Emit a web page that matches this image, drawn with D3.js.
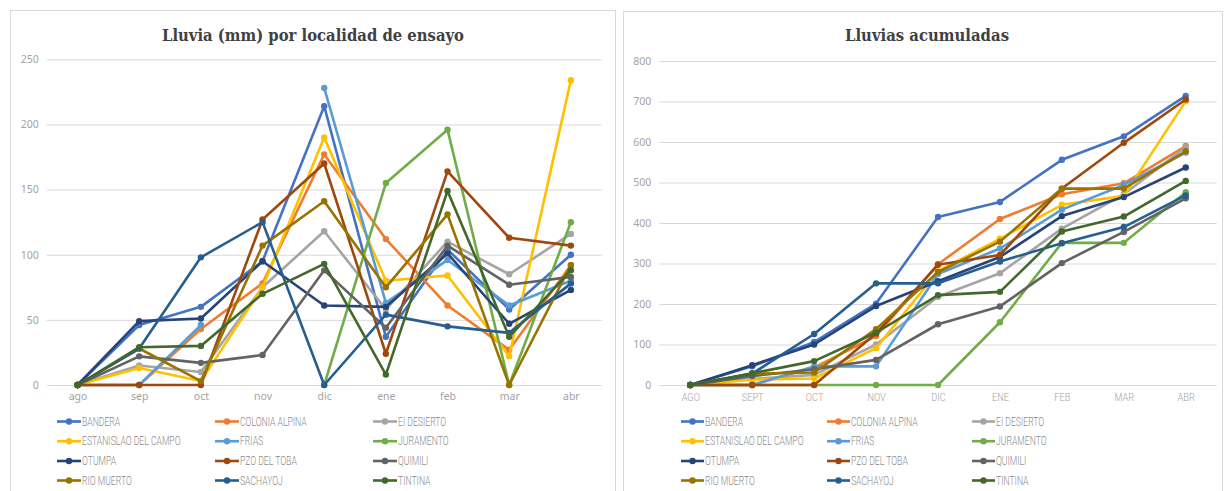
<!DOCTYPE html>
<html>
<head>
<meta charset="utf-8">
<script src="https://cdn.jsdelivr.net/npm/d3@7"></script>
<style>
  html, body { margin: 0; padding: 0; background: #fff; }
  svg { display: block; }
</style>
</head>
<body>
<svg id="chart" width="1225" height="491"></svg>
<script>
// Months of the campaign
const months = ["ago", "sep", "oct", "nov", "dic", "ene", "feb", "mar", "abr"];
const monthsUpper = ["AGO", "SEPT", "OCT", "NOV", "DIC", "ENE", "FEB", "MAR", "ABR"];

// Trial locations and their colours
const localities = ["BANDERA", "COLONIA ALPINA", "EI DESIERTO", "ESTANISLAO DEL CAMPO", "FRIAS", "JURAMENTO",
                    "OTUMPA", "PZO DEL TOBA", "QUIMILI", "RIO MUERTO", "SACHAYOJ", "TINTINA"];
const colors = ["#4472C4", "#ED7D31", "#A5A5A5", "#FFC000", "#5B9BD5", "#70AD47",
                "#264478", "#9E480E", "#636363", "#997300", "#255E91", "#43682B"];

// Monthly rainfall (mm); null = no record for that month
const monthlyBandera     = [0, 46, 60, 95, 214, 37, 104, 58, 100];
const monthlyColonia     = [0, 0, 43, 78, 177, 112, 61, 27, 92];
const monthlyDesierto    = [0, 15, 10, 75, 118, 58, 110, 85, 116];
const monthlyEstanislao  = [0, 13, 3, 75, 190, 80, 84, 22, 234];
const monthlyFrias       = [0, 0, 46, null, 228, 63, 96, 61, 80];
const monthlyJuramento   = [0, null, null, null, 0, 155, 196, 0, 125];
const monthlyOtumpa      = [0, 49, 51, 95, 61, 60, 101, 47, 73];
const monthlyPzoToba     = [0, 0, 0, 127, 170, 24, 164, 113, 107];
const monthlyQuimili     = [0, 22, 17, 23, 88, 44, 107, 77, 83];
const monthlyRioMuerto   = [0, 28, 3, 107, 141, 75, 131, 0, 92];
const monthlySachayoj    = [0, 28, 98, 125, 0, 54, 45, 40, 78];
const monthlyTintina     = [0, 29, 30, 70, 93, 8, 149, 37, 88];

// Accumulated rainfall (mm)
const accBandera     = [0, 46, 106, 201, 415, 452, 556, 614, 714];
const accColonia     = [0, 0, 43, 121, 298, 410, 471, 498, 590];
const accDesierto    = [0, 15, 25, 100, 218, 276, 386, 471, 587];
const accEstanislao  = [0, 13, 16, 91, 281, 361, 445, 467, 701];
const accFrias       = [0, 0, 46, 46, 274, 337, 433, 494, 574];
const accJuramento   = [0, 0, 0, 0, 0, 155, 351, 351, 476];
const accOtumpa      = [0, 49, 100, 195, 256, 316, 417, 464, 537];
const accPzoToba     = [0, 0, 0, 127, 297, 321, 485, 598, 705];
const accQuimili     = [0, 22, 39, 62, 150, 194, 301, 378, 461];
const accRioMuerto   = [0, 28, 31, 138, 279, 354, 485, 485, 577];
const accSachayoj    = [0, 28, 126, 251, 251, 305, 350, 390, 468];
const accTintina     = [0, 29, 59, 129, 222, 230, 379, 416, 504];

// Axis ticks
const monthlyTicks = [0, 50, 100, 150, 200, 250];
const accTicks = [0, 100, 200, 300, 400, 500, 600, 700, 800];

const monthlyValues = [monthlyBandera, monthlyColonia, monthlyDesierto, monthlyEstanislao, monthlyFrias, monthlyJuramento,
                       monthlyOtumpa, monthlyPzoToba, monthlyQuimili, monthlyRioMuerto, monthlySachayoj, monthlyTintina];
const accValues = [accBandera, accColonia, accDesierto, accEstanislao, accFrias, accJuramento,
                   accOtumpa, accPzoToba, accQuimili, accRioMuerto, accSachayoj, accTintina];

const svg = d3.select("#chart");

const GRID = "#d9d9d9";
const TICK_COLOR = "#a3a3a3";
const LEGEND_COLOR = "#8a8a8a";
const LINE_W = 2.6;
const DOT_R = 3.2;

function drawPanel(cfg) {
  // Panel frame
  svg.append("rect")
    .attr("x", cfg.frame[0]).attr("y", cfg.frame[1])
    .attr("width", cfg.frame[2]).attr("height", cfg.frame[3])
    .attr("fill", "#fff").attr("stroke", GRID).attr("stroke-width", 1);

  // Title
  svg.append("text")
    .attr("x", cfg.titleX).attr("y", cfg.titleY)
    .attr("text-anchor", "middle")
    .attr("font-family", "DejaVu Serif, Liberation Serif, serif")
    .attr("font-weight", "bold")
    .attr("font-size", 17.5)
    .attr("fill", "#404040")
    .attr("textLength", cfg.titleLen)
    .attr("lengthAdjust", "spacingAndGlyphs")
    .text(cfg.title);

  const x = d3.scalePoint().domain(cfg.cats).range([cfg.left, cfg.right]).padding(0.5);
  const y = d3.scaleLinear().domain([0, cfg.max]).range([cfg.bottom, cfg.top]);

  // Horizontal gridlines + value labels
  const yAxis = svg.append("g")
    .attr("transform", `translate(${cfg.left},0)`)
    .call(d3.axisLeft(y).tickValues(cfg.ticks).tickSize(-(cfg.right - cfg.left)).tickPadding(8).tickFormat(d3.format("d")));
  yAxis.select(".domain").remove();
  yAxis.selectAll(".tick line").attr("stroke", GRID).attr("stroke-width", 1);
  yAxis.selectAll(".tick text")
    .attr("fill", TICK_COLOR)
    .attr("font-family", "Noto Sans, sans-serif")
    .attr("font-size", 10.5);

  // Category labels
  const xAxis = svg.append("g")
    .attr("transform", `translate(0,${cfg.bottom})`)
    .call(d3.axisBottom(x).tickSize(0).tickPadding(8));
  xAxis.select(".domain").remove();
  xAxis.selectAll(".tick text")
    .attr("fill", TICK_COLOR)
    .attr("font-family", cfg.catFont)
    .attr("font-weight", cfg.catWeight)
    .attr("font-size", cfg.catSize)
    .attr("transform", `scale(${cfg.catScale},1)`);

  // Series lines (broken where a month has no record) and markers
  const series = localities.map((name, i) => ({
    name, color: colors[i],
    points: cfg.values[i].map((v, j) => ({ cat: cfg.cats[j], v }))
  }));

  const line = d3.line().defined(d => d.v !== null).x(d => x(d.cat)).y(d => y(d.v));

  const g = svg.append("g");
  series.forEach(s => {
    const sg = g.append("g");
    sg.append("path")
      .attr("d", line(s.points))
      .attr("fill", "none")
      .attr("stroke", s.color)
      .attr("stroke-width", LINE_W)
      .attr("stroke-linejoin", "round")
      .attr("stroke-linecap", "round");
    sg.selectAll("circle").data(s.points.filter(p => p.v !== null)).join("circle")
      .attr("cx", d => x(d.cat)).attr("cy", d => y(d.v))
      .attr("r", DOT_R)
      .attr("fill", s.color);
  });

  // Legend: 3 columns x 4 rows
  const rows = [421.5, 441.2, 461, 480.5];
  localities.forEach((name, i) => {
    const col = i % 3, row = Math.floor(i / 3);
    const sx = cfg.legendCols[col];
    const lg = svg.append("g").attr("transform", `translate(${sx},${rows[row]})`);
    lg.append("line")
      .attr("x1", 0).attr("x2", cfg.legendSym)
      .attr("y1", 0).attr("y2", 0)
      .attr("stroke", colors[i]).attr("stroke-width", LINE_W);
    lg.append("circle").attr("cx", cfg.legendSym / 2).attr("cy", 0).attr("r", DOT_R).attr("fill", colors[i]);
    lg.append("g").attr("transform", `translate(${cfg.legendSym + 1},0)`)
      .append("text")
      .attr("x", 0).attr("y", 0)
      .attr("dy", "0.35em")
      .attr("font-family", "Roboto, sans-serif")
      .attr("font-weight", 300)
      .attr("font-size", 12)
      .attr("fill", LEGEND_COLOR)
      .attr("transform", "scale(0.72,1)")
      .text(name);
  });
}

drawPanel({
  frame: [10.5, 10.5, 605, 500],
  title: "Lluvia (mm) por localidad de ensayo",
  titleX: 313, titleY: 40.7, titleLen: 302,
  left: 46.7, right: 601.7, top: 59.3, bottom: 385,
  max: 250, ticks: monthlyTicks,
  cats: months, values: monthlyValues,
  catFont: "Noto Sans, sans-serif", catWeight: 400, catSize: 10.5, catScale: 1,
  legendCols: [57, 215, 373], legendSym: 24
});

drawPanel({
  frame: [623.5, 11.5, 599, 500],
  title: "Lluvias acumuladas",
  titleX: 927, titleY: 41, titleLen: 164,
  left: 659.3, right: 1216.7, top: 61, bottom: 385,
  max: 800, ticks: accTicks,
  cats: monthsUpper, values: accValues,
  catFont: "Roboto, sans-serif", catWeight: 300, catSize: 11.5, catScale: 0.8,
  legendCols: [681, 827, 972], legendSym: 23
});
</script>
</body>
</html>
